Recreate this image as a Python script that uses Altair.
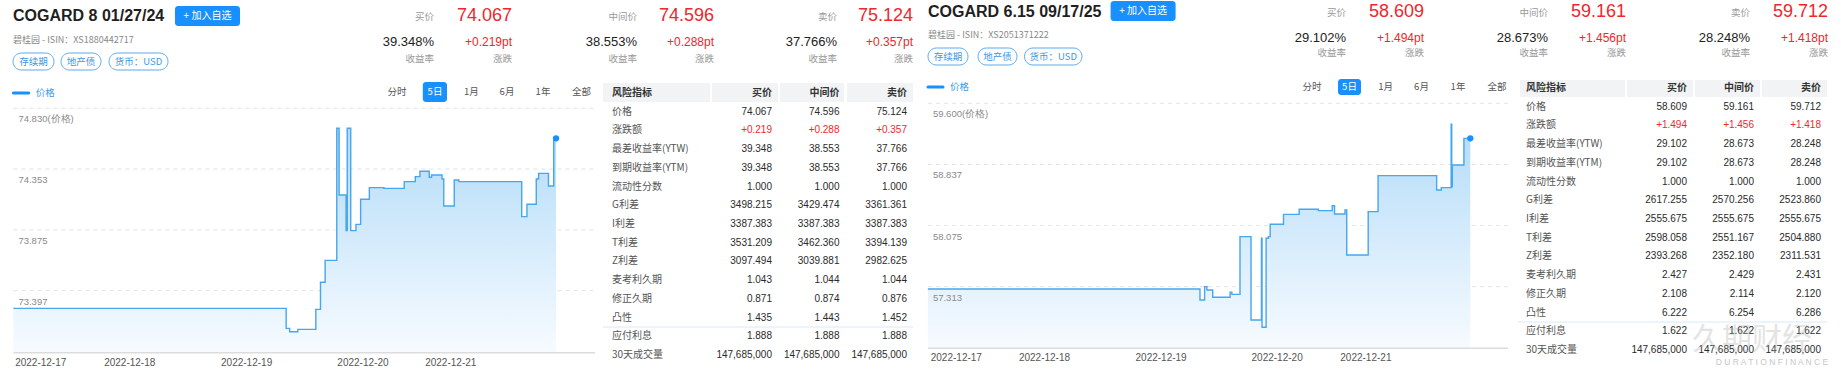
import altair as alt
import pandas as pd

# ---------------- data ----------------
QUOTE_NAMES = ["买价", "中间价", "卖价"]
TAGS = ["存续期", "地产债", "货币：USD"]
RANGE_BTNS = ["分时", "5日", "1月", "6月", "1年", "全部"]
DATE_LABELS = ["2022-12-17", "2022-12-18", "2022-12-19", "2022-12-20", "2022-12-21"]

L_TITLE = "COGARD 8 01/27/24"
L_ISIN = "碧桂园 - ISIN：XS1880442717"
L_QUOTE = [74.067, 74.596, 75.124]
L_YIELD = [39.348, 38.553, 37.766]
L_CHG = [0.219, 0.288, 0.357]

R_TITLE = "COGARD 6.15 09/17/25"
R_ISIN = "碧桂园 - ISIN：XS2051371222"
R_QUOTE = [58.609, 59.161, 59.712]
R_YIELD = [29.102, 28.673, 28.248]
R_CHG = [1.494, 1.456, 1.418]

# price series (x = position along the 5-day axis, 0..100)
L_T = [0, 46.9, 47.5, 48.9, 52.0, 52.8, 53.6, 55.6, 56.0, 57.2, 57.4, 58.0, 58.9, 59.7,
       61.2, 63.7, 67.2, 69.1, 69.9, 71.5, 71.9, 73.7, 74.0, 75.8, 76.6, 87.4, 88.3,
       89.9, 90.3, 92.0, 92.9, 93.3]
L_P = [73.258, 73.101, 73.075, 73.093, 73.250, 73.463, 73.635, 74.673, 74.149, 73.869,
       74.673, 73.869, 73.918, 74.115, 74.207, 74.201, 74.254, 74.293, 74.335, 74.288,
       74.306, 74.275, 74.062, 74.267, 74.254, 73.979, 74.076, 74.275, 74.319, 74.220,
       74.594, 74.594]
L_TICKS = [73.397, 73.875, 74.353, 74.830]
L_DATE_POS = [4.7, 20.0, 40.1, 60.1, 75.2]

R_T = [0, 46.9, 47.7, 48.1, 49.1, 52.1, 52.4, 53.8, 55.7, 57.5, 57.6, 58.3, 58.7, 59.0,
       61.3, 64.0, 67.3, 69.7, 70.1, 71.9, 72.2, 75.9, 77.6, 87.7, 88.5, 90.2, 90.3,
       90.4, 92.4, 93.5]
R_P = [57.284, 57.147, 57.313, 57.272, 57.180, 57.245, 57.217, 57.937, 56.897, 57.916,
       56.806, 57.916, 57.937, 58.091, 58.215, 58.278, 58.261, 58.323, 58.220, 58.269,
       57.708, 58.249, 58.698, 58.519, 58.548, 59.338, 58.560, 58.831, 59.163, 59.163]
R_TICKS = [57.313, 58.075, 58.837, 59.600]
R_DATE_POS = [4.9, 20.1, 40.2, 60.2, 75.5]

METRICS = ["价格", "涨跌额", "最差收益率(YTW)", "到期收益率(YTM)", "流动性分数", "G利差", "I利差",
           "T利差", "Z利差", "麦考利久期", "修正久期", "凸性", "应付利息", "30天成交量"]
L_BID = ["74.067", "+0.219", "39.348", "39.348", "1.000", "3498.215", "3387.383", "3531.209",
         "3097.494", "1.043", "0.871", "1.435", "1.888", "147,685,000"]
L_MID = ["74.596", "+0.288", "38.553", "38.553", "1.000", "3429.474", "3387.383", "3462.360",
         "3039.881", "1.044", "0.874", "1.443", "1.888", "147,685,000"]
L_ASK = ["75.124", "+0.357", "37.766", "37.766", "1.000", "3361.361", "3387.383", "3394.139",
         "2982.625", "1.044", "0.876", "1.452", "1.888", "147,685,000"]
R_BID = ["58.609", "+1.494", "29.102", "29.102", "1.000", "2617.255", "2555.675", "2598.058",
         "2393.268", "2.427", "2.108", "6.222", "1.622", "147,685,000"]
R_MID = ["59.161", "+1.456", "28.673", "28.673", "1.000", "2570.256", "2555.675", "2551.167",
         "2352.180", "2.429", "2.114", "6.254", "1.622", "147,685,000"]
R_ASK = ["59.712", "+1.418", "28.248", "28.248", "1.000", "2523.860", "2555.675", "2504.880",
         "2311.531", "2.431", "2.120", "6.286", "1.622", "147,685,000"]

# ---------------- style / layout ----------------
CJK = "Noto Sans CJK SC"
NUM = "Liberation Sans"
BLUE = "#1890ff"
RED = "#f0262d"
LINE = "#46a6ee"
GRAD = alt.Gradient(gradient="linear",
                    stops=[alt.GradientStop(color="#f7fbff", offset=0),
                           alt.GradientStop(color="#b2dbf8", offset=1)],
                    x1=1, x2=1, y1=1, y2=0)

LP = dict(title=(13, 16), btn=(175, 240, 6, 26), isin=(13, 40),
          tags=[(13, 54), (61, 101), (109, 168)], tag_y=(53, 70),
          q_lab_x=[434, 637, 837], q_val_x=[512, 714, 913], q_y=(17, 16, 42, 59),
          legend=(13.4, 28.7, 93), btn_x=[397, 435, 471.4, 507, 543, 581.6],
          sel_box=(422.8, 447, 82, 102), btn_y=92,
          xr=[13.4, 595], yr=[352.7, 108.3], ydom=[72.910, 74.830],
          tbl_y=[93, 355], tbl_cols=[772, 907], tbl_lab_x=612,
          hdr_cells=[(603, 710), (712, 778), (780, 844), (847, 913)], hdr_y=(83, 102),
          sep=(603, 913, 327))
RP = dict(title=(928, 12), btn=(1110.6, 1175.6, 1, 21), isin=(928, 35),
          tags=[(928, 968), (978, 1017), (1024.5, 1082)], tag_y=(48, 65),
          q_lab_x=[1346, 1548, 1750], q_val_x=[1424, 1626, 1828], q_y=(13, 12, 38, 53),
          legend=(928, 943, 87), btn_x=[1312, 1349.5, 1385.6, 1421.5, 1458, 1497],
          sel_box=(1338, 1361, 79, 95), btn_y=87,
          xr=[927.9, 1508], yr=[348.3, 103.3], ydom=[56.544, 59.600],
          tbl_y=[88, 350], tbl_cols=[1687, 1821], tbl_lab_x=1526,
          hdr_cells=[(1520, 1625), (1627, 1693), (1695, 1760), (1762, 1827)], hdr_y=(80, 97),
          sep=(1518, 1827, 322))

ONE = pd.DataFrame({"k": [0]})


def txt(s, x, y, size, color="#333", align="left", font=CJK, weight="normal", opacity=1.0):
    return alt.Chart(ONE).mark_text(text=s, fontSize=size, color=color, align=align, font=font,
                                    fontWeight=weight, baseline="middle", opacity=opacity
                                    ).encode(x=alt.value(x), y=alt.value(y))


def box(x0, x1, y0, y1, fill, stroke=None, radius=0):
    kw = dict(fill=fill, cornerRadius=radius)
    if stroke:
        kw.update(stroke=stroke, strokeWidth=1)
    return alt.Chart(ONE).mark_rect(**kw).encode(x=alt.value(x0), x2=alt.value(x1),
                                                 y=alt.value(y0), y2=alt.value(y1))


def hline(x0, x1, y, color, width=1.0, cap="butt"):
    return alt.Chart(ONE).mark_rule(color=color, strokeWidth=width, strokeCap=cap).encode(
        x=alt.value(x0), x2=alt.value(x1), y=alt.value(y))


def header(P, title, isin, quote, yld, chg):
    out = [txt(title, P["title"][0], P["title"][1], 16, "#1f1f1f", font=NUM, weight="bold")]
    bx0, bx1, by0, by1 = P["btn"]
    out.append(box(bx0, bx1, by0, by1, BLUE, radius=3))
    out.append(txt("+ 加入自选", (bx0 + bx1) / 2, (by0 + by1) / 2, 10, "white", align="center"))
    out.append(txt(isin, P["isin"][0], P["isin"][1], 9, "#888"))
    ty0, ty1 = P["tag_y"]
    for (x0, x1), tg in zip(P["tags"], TAGS):
        out.append(box(x0, x1, ty0, ty1, "white", stroke="#5aaaf0", radius=9))
        out.append(txt(tg, (x0 + x1) / 2, (ty0 + ty1) / 2, 9.5, "#3d97e8", align="center"))
    ly, py, yy, sy = P["q_y"]
    for i in range(3):
        lx, vx = P["q_lab_x"][i], P["q_val_x"][i]
        out.append(txt(QUOTE_NAMES[i], lx, ly, 9.5, "#999", align="right"))
        out.append(txt(f"{quote[i]:.3f}", vx, py, 18, RED, align="right", font=NUM))
        out.append(txt(f"{yld[i]:.3f}%", lx, yy, 13, "#222", align="right", font=NUM))
        out.append(txt(f"+{chg[i]:.3f}pt", vx, yy, 12, RED, align="right", font=NUM))
        out.append(txt("收益率", lx, sy, 9.5, "#999", align="right"))
        out.append(txt("涨跌", vx, sy, 9.5, "#999", align="right"))
    # chart toolbar
    gx0, gx1, gy = P["legend"]
    out.append(hline(gx0, gx1, gy, BLUE, 3, "round"))
    out.append(txt("价格", gx1 + 7, gy, 9.5, "#3d97e8"))
    sx0, sx1, sy0, sy1 = P["sel_box"]
    out.append(box(sx0, sx1, sy0, sy1, BLUE, radius=3))
    for bx, lab in zip(P["btn_x"], RANGE_BTNS):
        out.append(txt(lab, bx, P["btn_y"], 9.5, "white" if lab == "5日" else "#555", align="center"))
    return out


def price_chart(P, t, p, ticks, date_pos):
    xs = alt.Scale(domain=[0, 100], range=P["xr"], nice=False, zero=False)
    ys = alt.Scale(domain=P["ydom"], range=P["yr"], nice=False, zero=False)
    df = pd.DataFrame({"t": t, "p": p})
    X = alt.X("t:Q", scale=xs, axis=None)
    Y = alt.Y("p:Q", scale=ys, axis=None)
    X0 = alt.XDatum(0, type="quantitative", scale=xs, axis=None)
    X1 = alt.X2Datum(100)
    Ybase = alt.YDatum(P["ydom"][0], type="quantitative", scale=ys, axis=None)
    labels = [f"{v:.3f}" + ("(价格)" if v == max(ticks) else "") for v in ticks]
    tdf = pd.DataFrame({"p": ticks, "lab": labels})
    ddf = pd.DataFrame({"t": date_pos, "lab": DATE_LABELS})
    grid = alt.Chart(tdf).mark_rule(color="#e3e3e3", strokeDash=[4, 4], strokeWidth=1).encode(
        y=Y, x=X0, x2=X1)
    ylab = alt.Chart(tdf).mark_text(align="left", baseline="middle", dx=5, dy=11, fontSize=9.5,
                                    color="#8a8a8a", font=NUM).encode(y=Y, x=X0, text="lab:N")
    area = alt.Chart(df).mark_area(interpolate="step-after", color=GRAD).encode(
        x=X, y=Y, y2=alt.Y2Datum(P["ydom"][0]))
    line = alt.Chart(df).mark_line(interpolate="step-after", color=LINE, strokeWidth=1.4).encode(
        x=X, y=Y)
    pt = alt.Chart(df.tail(1)).mark_point(filled=True, size=40, color=BLUE, opacity=1).encode(
        x=X, y=Y)
    base = alt.Chart(ONE).mark_rule(color="#dcdcdc", strokeWidth=1.5).encode(y=Ybase, x=X0, x2=X1)
    xlab = alt.Chart(ddf).mark_text(align="center", baseline="middle", dy=10, fontSize=10,
                                    color="#555", font=NUM).encode(x=X, y=Ybase, text="lab:N")
    return [grid, area, line, pt, base, xlab, ylab]


def table(P, bid, mid, ask):
    rows = ["风险指标"] + METRICS
    ys = alt.Scale(type="point", domain=rows, range=P["tbl_y"], padding=0)
    xs = alt.Scale(type="point", domain=QUOTE_NAMES, range=P["tbl_cols"], padding=0)
    out = []
    hy0, hy1 = P["hdr_y"]
    for x0, x1 in P["hdr_cells"]:
        out.append(box(x0, x1, hy0, hy1, "#f2f3f5"))
    sx0, sx1, sy = P["sep"]
    out.append(hline(sx0, sx1, sy, "#d9eaf8", 1))
    recs = []
    for col, vals in zip(QUOTE_NAMES, [bid, mid, ask]):
        for r, v in zip(METRICS, vals):
            recs.append({"row": r, "col": col, "v": v})
    vdf = pd.DataFrame(recs)
    out.append(alt.Chart(vdf).mark_text(align="right", baseline="middle", fontSize=10, font=NUM).encode(
        x=alt.X("col:N", scale=xs, axis=None),
        y=alt.Y("row:N", scale=ys, axis=None),
        text="v:N",
        color=alt.condition(alt.datum.row == "涨跌额", alt.value(RED), alt.value("#2a2a2a"))))
    hdf = pd.DataFrame({"row": ["风险指标"] * 3, "col": QUOTE_NAMES})
    out.append(alt.Chart(hdf).mark_text(align="right", baseline="middle", fontSize=10,
                                        font=CJK, fontWeight="bold", color="#333").encode(
        x=alt.X("col:N", scale=xs, axis=None), y=alt.Y("row:N", scale=ys, axis=None), text="col:N"))
    out.append(alt.Chart(pd.DataFrame({"row": ["风险指标"]})).mark_text(
        align="left", baseline="middle", fontSize=10, font=CJK, fontWeight="bold", color="#333").encode(
        x=alt.value(P["tbl_lab_x"]), y=alt.Y("row:N", scale=ys, axis=None), text="row:N"))
    out.append(alt.Chart(pd.DataFrame({"row": METRICS})).mark_text(
        align="left", baseline="middle", fontSize=10, font=CJK, color="#555").encode(
        x=alt.value(P["tbl_lab_x"]), y=alt.Y("row:N", scale=ys, axis=None), text="row:N"))
    return out


layers = []
layers += header(LP, L_TITLE, L_ISIN, L_QUOTE, L_YIELD, L_CHG)
layers += price_chart(LP, L_T, L_P, L_TICKS, L_DATE_POS)
layers += table(LP, L_BID, L_MID, L_ASK)
layers += header(RP, R_TITLE, R_ISIN, R_QUOTE, R_YIELD, R_CHG)
layers += price_chart(RP, R_T, R_P, R_TICKS, R_DATE_POS)
layers += table(RP, R_BID, R_MID, R_ASK)
# watermark
layers.append(txt("久期财经", 1752, 340, 30, "#b0b0b0", align="center", opacity=0.35))
layers.append(txt("D U R A T I O N   F I N A N C E", 1772, 362, 8.5, "#b8b8b8", align="center",
                  font=NUM, opacity=0.8))

chart = alt.layer(*layers).resolve_scale(
    x="independent", y="independent", color="independent"
).properties(
    width=1841, height=371, padding=0, background="white",
    autosize=alt.AutoSizeParams(type="none")
).configure_view(stroke=None)

chart.save("out.html", embed_options={"renderer": "svg", "actions": False})
